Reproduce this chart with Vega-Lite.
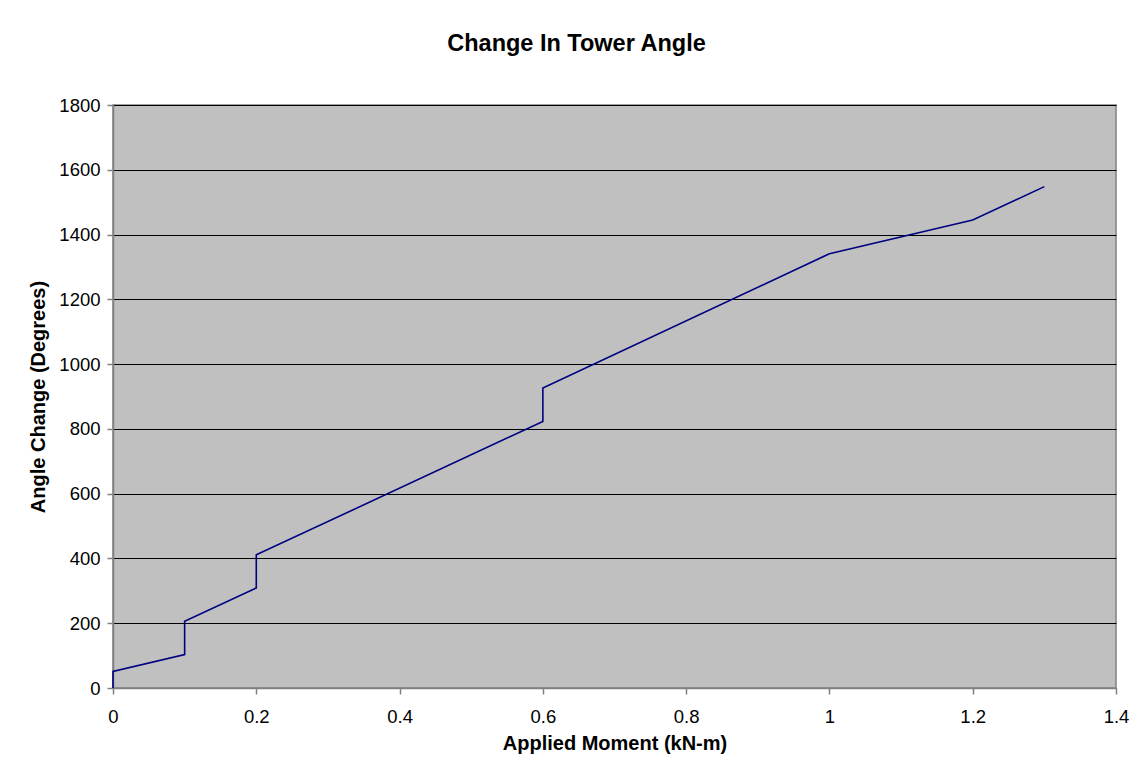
{
  "$schema": "https://vega.github.io/schema/vega-lite/v6.json",
  "autosize": "none",
  "width": 1003,
  "height": 583,
  "padding": {"left": 113, "top": 105, "right": 21, "bottom": 90},
  "background": "white",
  "config": {
    "font": "Liberation Sans",
    "view": {"fill": "#C0C0C0", "stroke": "#808080", "strokeWidth": 1.5}
  },
  "title": {
    "text": "Change In Tower Angle",
    "fontSize": 23.5,
    "fontWeight": "bold",
    "font": "Liberation Sans",
    "color": "black",
    "anchor": "middle",
    "baseline": "alphabetic",
    "dx": -38,
    "offset": 22
  },
  "data": {
    "values": [
      {"i": 0, "moment": 0, "angle": 0},
      {"i": 1, "moment": 0, "angle": 51},
      {"i": 2, "moment": 0.1, "angle": 103},
      {"i": 3, "moment": 0.1, "angle": 206},
      {"i": 4, "moment": 0.2, "angle": 309},
      {"i": 5, "moment": 0.2, "angle": 411},
      {"i": 6, "moment": 0.6, "angle": 823},
      {"i": 7, "moment": 0.6, "angle": 926},
      {"i": 8, "moment": 1.0, "angle": 1341},
      {"i": 9, "moment": 1.2, "angle": 1445},
      {"i": 10, "moment": 1.3, "angle": 1548}
    ]
  },
  "mark": {"type": "line", "color": "#000080", "strokeWidth": 1.6},
  "encoding": {
    "order": {"field": "i", "type": "quantitative"},
    "x": {
      "field": "moment",
      "type": "quantitative",
      "scale": {"domain": [0, 1.4], "nice": false, "zero": false},
      "axis": {
        "title": "Applied Moment (kN-m)",
        "values": [0, 0.2, 0.4, 0.6, 0.8, 1, 1.2, 1.4],
        "format": "~g",
        "grid": false,
        "labelFlush": false,
        "domainColor": "#808080",
        "domainWidth": 1.5,
        "tickColor": "#808080",
        "tickWidth": 1.5,
        "tickSize": 6,
        "labelFontSize": 18.5,
        "labelColor": "black",
        "labelPadding": 13,
        "titleFontSize": 20,
        "titleFontWeight": "bold",
        "titleColor": "black",
        "titleBaseline": "alphabetic",
        "titleY": 61
      }
    },
    "y": {
      "field": "angle",
      "type": "quantitative",
      "scale": {"domain": [0, 1800], "nice": false},
      "axis": {
        "title": "Angle Change (Degrees)",
        "values": [0, 200, 400, 600, 800, 1000, 1200, 1400, 1600, 1800],
        "format": "d",
        "grid": true,
        "gridColor": "black",
        "gridWidth": 1,
        "gridOpacity": 1,
        "domainColor": "#808080",
        "domainWidth": 1.5,
        "tickColor": "#808080",
        "tickWidth": 1.5,
        "tickSize": 6,
        "labelFontSize": 18.5,
        "labelColor": "black",
        "labelPadding": 7,
        "titleFontSize": 20,
        "titleFontWeight": "bold",
        "titleColor": "black",
        "titleBaseline": "alphabetic",
        "titleX": -68.5,
        "titleY": 291.5
      }
    }
  }
}
